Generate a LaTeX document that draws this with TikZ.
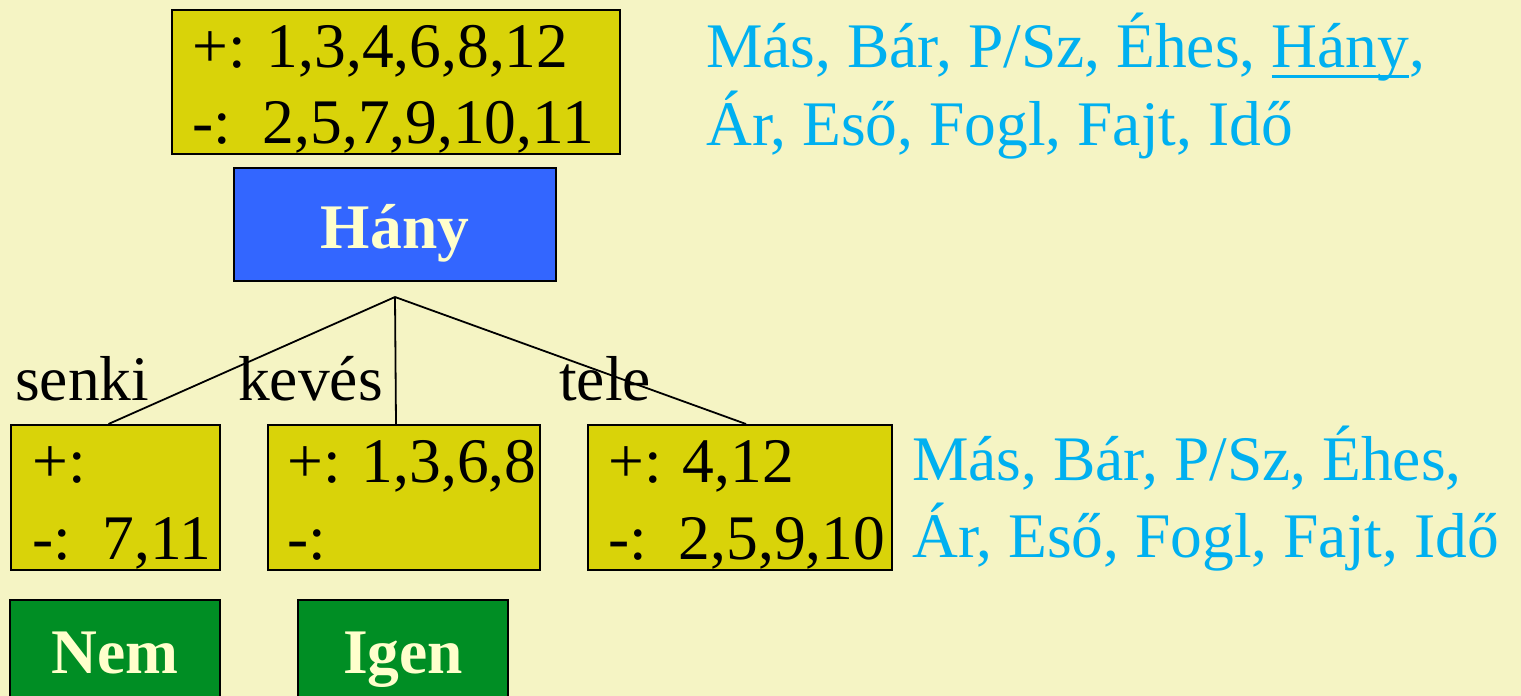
\documentclass[tikz,border=0pt]{standalone}
\usepackage{fontspec}
\setmainfont{Liberation Serif}

\definecolor{bgcream}{RGB}{245,244,196}
\definecolor{setolive}{RGB}{217,211,9}
\definecolor{attrblue}{RGB}{51,102,255}
\definecolor{leafgreen}{RGB}{0,142,36}
\definecolor{labelcream}{RGB}{255,255,204}
\definecolor{attrcyan}{RGB}{0,176,240}

% underline sitting close to the baseline
\newcommand\attrul[1]{\setbox0\hbox{#1}\rlap{\rule[-11pt]{\wd0}{3.5pt}}\box0}

\tikzset{
  bigfont/.style={font=\fontsize{63.5}{76}\selectfont},
  setbox/.style={rectangle, draw=black, line width=2pt, fill=setolive,
                 inner sep=0pt, anchor=north west},
  setline/.style={bigfont, text=black, inner sep=0pt, anchor=base west},
  attrbox/.style={rectangle, draw=black, line width=2pt, fill=attrblue,
                  text=labelcream, inner sep=0pt, anchor=base,
                  font=\fontsize{63.5}{76}\selectfont\bfseries},
  leafbox/.style={rectangle, draw=black, line width=2pt, fill=leafgreen,
                  text=labelcream, inner sep=0pt, anchor=base,
                  font=\fontsize{63.5}{76}\selectfont\bfseries},
  branchlabel/.style={bigfont, text=black, inner sep=0pt, anchor=base west},
  attrlist/.style={bigfont, text=attrcyan, inner sep=0pt, anchor=base west},
  edge/.style={draw=black, line width=1.8pt}
}

\begin{document}
\begin{tikzpicture}[x=1pt,y=-1pt]
  \clip (0,0) rectangle (1521,696);
  \fill[bgcream] (0,0) rectangle (1521,696);

  % root example set
  \node[setbox, minimum width=448pt, minimum height=144pt] (rootset) at (171,9) {};
  \node[setline] (rootpos) at (192,67) {+: 1,3,4,6,8,12};
  \node[setline] (rootneg) at (192,143) {-:\ \ 2,5,7,9,10,11};

  % chosen attribute
  \node[attrbox, minimum width=322pt, minimum height=113pt,
        text height=50pt, text depth=3pt] (hany) at (395,248) {Hány};

  % remaining attributes
  \node[attrlist] (attrsA1) at (706,67) {Más, Bár, P/Sz, Éhes, \attrul{Hány},};
  \node[attrlist] (attrsA2) at (706,145) {Ár, Eső, Fogl, Fajt, Idő};

  % branches
  \coordinate (fork) at (395,297);

  \node[setbox, minimum width=209pt, minimum height=145pt] (senkiset) at (10,424) {};
  \node[setline] (senkipos) at (32,482) {+:};
  \node[setline] (senkineg) at (32,559) {-:\ \ 7,11};

  \node[setbox, minimum width=272pt, minimum height=145pt] (kevesset) at (267,424) {};
  \node[setline] (kevespos) at (287,482) {+: 1,3,6,8};
  \node[setline] (kevesneg) at (287,559) {-:};

  \node[setbox, minimum width=304pt, minimum height=145pt] (teleset) at (587,424) {};
  \node[setline] (telepos) at (608,482) {+: 4,12};
  \node[setline] (teleneg) at (608,559) {-:\ \ 2,5,9,10};

  \draw[edge] (fork) -- ([xshift=-7pt]senkiset.north);
  \draw[edge] (fork) -- ([xshift=-8pt]kevesset.north);
  \draw[edge] (fork) -- ([xshift=6pt]teleset.north);

  \node[branchlabel] (lsenki) at (15,400) {senki};
  \node[branchlabel] (lkeves) at (238,400) {kevés};
  \node[branchlabel] (ltele) at (559,400) {tele};

  \node[attrlist] (attrsB1) at (912,480) {Más, Bár, P/Sz, Éhes,};
  \node[attrlist] (attrsB2) at (912,557) {Ár, Eső, Fogl, Fajt, Idő};

  % leaves
  \node[leafbox, minimum width=210pt, minimum height=113pt,
        text height=44pt, text depth=11pt] (nem) at (115,673) {Nem};
  \node[leafbox, minimum width=210pt, minimum height=113pt,
        text height=44pt, text depth=11pt] (igen) at (403,673) {Igen};
\end{tikzpicture}
\end{document}
